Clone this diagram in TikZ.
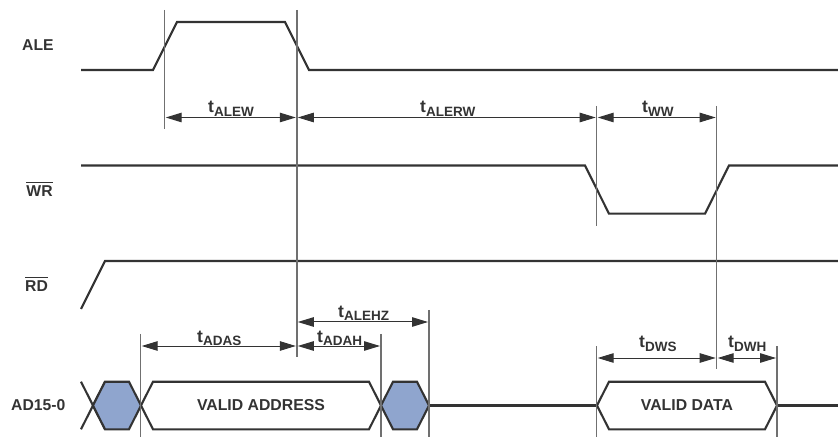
\documentclass[tikz,border=0pt]{standalone}
\usepackage{fontspec}
\usepackage{calc}
\setmainfont{Liberation Sans}
\usetikzlibrary{arrows.meta}
\definecolor{ink}{HTML}{333333}
\definecolor{guide}{HTML}{707070}
\definecolor{fillblue}{HTML}{8FA5CE}
\newcommand{\tlab}[1]{{\fontsize{17.5}{17.5}\selectfont\bfseries t}\raisebox{-3.5pt}{\fontsize{13.5}{13.5}\selectfont\bfseries #1}}
\newcommand{\barlab}[1]{\rlap{\rule[13pt]{\widthof{#1}}{1.3pt}}#1}
\tikzset{
  signal/.style={draw=ink,line width=2.1pt,line join=miter},
  guideline/.style={draw=guide,line width=1.4pt},
  span/.style={draw=ink,line width=1pt,{Triangle[length=16pt,width=9.5pt,color=ink]}-{Triangle[length=16pt,width=9.5pt,color=ink]},shorten <=1pt,shorten >=1pt},
  timing/.style={text=ink,inner sep=0pt,anchor=base west},
  sigName/.style={text=ink,inner sep=0pt,anchor=base west,font=\fontsize{15.7}{15.7}\selectfont\bfseries},
  bus/.style={signal,fill=white},
  busfill/.style={signal,fill=fillblue},
  buslabel/.style={text=ink,inner sep=0pt,font=\fontsize{15.8}{15.8}\selectfont\bfseries},
}
\begin{document}
\begin{tikzpicture}[x=1pt,y=-1pt]
\useasboundingbox (0,0) rectangle (838,438);
% signal names
\node[sigName] (nALE) at (22,50.5) {ALE};
\node[sigName] (nWR) at (26.3,196.3) {\barlab{WR}};
\node[sigName] (nRD) at (25,291.5) {\barlab{RD}};
\node[sigName] (nAD) at (11,410.5) {AD15-0};
% bus
\draw[signal] (81,381.7) -- (93,405.5) -- (105,429.3);
\draw[signal] (81,429.3) -- (93,405.5) -- (105,381.7);
\draw[busfill] (93,405.5) -- (105,381.7) -- (129,381.7) -- (141,405.5) -- (129,429.3) -- (105,429.3) -- cycle;
\draw[bus] (141,405.5) -- (153,381.7) -- (369,381.7) -- (381,405.5) -- (369,429.3) -- (153,429.3) -- cycle;
\draw[busfill] (381,405.5) -- (393,381.7) -- (417,381.7) -- (429,405.5) -- (417,429.3) -- (393,429.3) -- cycle;
\draw[signal] (429,405.5) -- (597,405.5);
\draw[bus] (597,405.5) -- (609,381.7) -- (765,381.7) -- (777,405.5) -- (765,429.3) -- (609,429.3) -- cycle;
\draw[signal] (777,405.5) -- (838,405.5);
% waveforms
\draw[signal] (81,70) -- (153,70) -- (177,22) -- (285,22) -- (309,70) -- (838,70);
\draw[signal] (81,165.5) -- (585,165.5) -- (609,213.7) -- (705,213.7) -- (729,165.5) -- (838,165.5);
\draw[signal] (81,309) -- (105,261) -- (838,261);
% guides
\coordinate (g1t) at (164.7,10);  \coordinate (g1b) at (164.7,129);
\coordinate (g2t) at (296.8,10);  \coordinate (g2b) at (296.8,357);
\coordinate (g3t) at (596.7,106); \coordinate (g3b) at (596.7,226);
\coordinate (g4t) at (716.7,106); \coordinate (g4b) at (716.7,369);
\coordinate (g5t) at (140.7,334); \coordinate (g5b) at (140.7,437);
\coordinate (g6t) at (381,334);   \coordinate (g6b) at (381,437);
\coordinate (g7t) at (429,310);   \coordinate (g7b) at (429,437);
\coordinate (g8t) at (596.7,346); \coordinate (g8b) at (596.7,437);
\coordinate (g9t) at (777,346);   \coordinate (g9b) at (777,437);
\foreach \i in {1,...,9} \draw[guideline] (g\i t) -- (g\i b);
% spans
\draw[span] (g1t |- 0,117.5) -- (g2t |- 0,117.5);
\draw[span] (g2t |- 0,117.5) -- (g3t |- 0,117.5);
\draw[span] (g3t |- 0,117.5) -- (g4t |- 0,117.5);
\draw[span] (g5t |- 0,346) -- (g2t |- 0,346);
\draw[span] (g2t |- 0,346) -- (g6t |- 0,346);
\draw[span] (g2t |- 0,322) -- (g7t |- 0,322);
\draw[span] (g8t |- 0,358) -- (g4t |- 0,358);
\draw[span] (g4t |- 0,358) -- (g9t |- 0,358);
% timing labels
\node[timing] (tALEW) at (208,113) {\tlab{ALEW}};
\node[timing] (tALERW) at (420,113) {\tlab{ALERW}};
\node[timing] (tWW) at (642,113) {\tlab{WW}};
\node[timing] (tADAS) at (197,342) {\tlab{ADAS}};
\node[timing] (tADAH) at (317,342) {\tlab{ADAH}};
\node[timing] (tALEHZ) at (338,317) {\tlab{ALEHZ}};
\node[timing] (tDWS) at (639,348) {\tlab{DWS}};
\node[timing] (tDWH) at (728,348) {\tlab{DWH}};
% bus labels
\node[buslabel] (va) at (261,405.5) {VALID ADDRESS};
\node[buslabel] (vd) at (687,405.5) {VALID DATA};
\end{tikzpicture}
\end{document}
